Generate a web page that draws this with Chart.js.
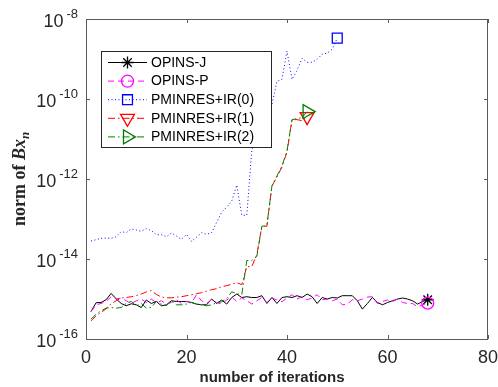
<!DOCTYPE html>
<html>
<head>
<meta charset="utf-8">
<script src="https://cdn.jsdelivr.net/npm/chart.js@4/dist/chart.umd.min.js"></script>
<style>
  html, body { margin: 0; padding: 0; background: #fff; }
  canvas { display: block; }
</style>
</head>
<body>
<canvas id="chart" width="498" height="387"></canvas>
<script>
const seriesNames = ['OPINS-J', 'OPINS-P', 'PMINRES+IR(0)', 'PMINRES+IR(1)', 'PMINRES+IR(2)'];

// norm of B x_n per iteration (iteration k = index + 1)
const opinsJ = [4.86e-16, 8.05e-16, 8.18e-16, 9.57e-16, 1.38e-15, 1.01e-15, 7.73e-16, 6.76e-16, 7.60e-16, 7.16e-16,
  6.12e-16, 9.42e-16, 7.73e-16, 8.67e-16, 6.76e-16, 7.16e-16, 9.03e-16, 8.67e-16, 8.67e-16, 8.67e-16,
  8.18e-16, 7.46e-16, 7.16e-16, 7.16e-16, 9.97e-16, 7.73e-16, 9.42e-16, 7.46e-16, 1.09e-15, 1.33e-15,
  1.09e-15, 1.14e-15, 1.09e-15, 1.09e-15, 1.21e-15, 7.73e-16, 1.09e-15, 7.73e-16, 1.09e-15, 1.14e-15,
  1.09e-15, 1.21e-15, 1.09e-15, 1.33e-15, 1.14e-15, 7.73e-16, 1.09e-15, 9.97e-16, 1.09e-15, 1.06e-15,
  1.21e-15, 1.21e-15, 1.21e-15, 9.03e-16, 5.58e-16, 7.73e-16, 1.09e-15, 8.18e-16, 7.16e-16, 8.18e-16,
  9.03e-16, 9.97e-16, 1.06e-15, 9.97e-16, 9.03e-16, 7.46e-16, 8.67e-16, 9.57e-16];

const opinsP = [4.86e-16, 7.16e-16, 7.73e-16, 8.67e-16, 1.14e-15, 9.97e-16, 1.06e-15, 9.03e-16, 7.73e-16, 9.03e-16,
  9.97e-16, 8.18e-16, 9.97e-16, 8.05e-16, 9.03e-16, 7.46e-16, 8.18e-16, 9.57e-16, 7.73e-16, 8.67e-16,
  8.05e-16, 1.28e-15, 9.03e-16, 7.73e-16, 9.57e-16, 8.18e-16, 7.46e-16, 9.42e-16, 1.14e-15, 8.67e-16,
  1.07e-15, 9.03e-16, 7.46e-16, 9.03e-16, 1.09e-15, 8.18e-16, 1.06e-15, 9.42e-16, 8.53e-16, 1.06e-15,
  1.28e-15, 9.97e-16, 1.14e-15, 9.57e-16, 1.06e-15, 1.28e-15, 9.57e-16, 9.97e-16, 9.03e-16, 9.97e-16,
  7.16e-16, 7.46e-16, 9.57e-16, 9.03e-16, 9.97e-16, 1.12e-15, 1.14e-15, 7.73e-16, 8.67e-16, 9.42e-16,
  8.67e-16, 9.97e-16, 8.18e-16, 7.73e-16, 7.73e-16, 6.38e-16, 7.16e-16, 7.91e-16];

const irZero = [2.81e-14, 3.04e-14, 3.28e-14, 3.33e-14, 3.28e-14, 3.61e-14, 4.83e-14, 4.56e-14, 5.62e-14, 5.31e-14,
  4.92e-14, 5.75e-14, 5.12e-14, 4.06e-14, 4.06e-14, 3.61e-14, 4.46e-14, 3.75e-14, 3.10e-14, 4.13e-14,
  2.75e-14, 3.53e-14, 4.56e-14, 4.13e-14, 4.56e-14, 8.28e-14, 1.48e-13, 1.98e-13, 2.80e-13, 7.06e-13,
  1.24e-13, 1.24e-13, 5.37e-12, 1.07e-11, 1.92e-11, 3.43e-11, 7.28e-11, 2.75e-10, 3.10e-10, 1.57e-9,
  3.10e-10, 5.21e-10, 1.04e-9, 8.28e-10, 8.28e-10, 9.86e-10, 1.32e-9, 1.40e-9, 1.76e-9, 3.33e-9];

const irOne = [2.84e-16, 3.79e-16, 4.59e-16, 5.69e-16, 7.60e-16, 9.03e-16, 1.06e-15, 1.09e-15, 1.14e-15, 1.21e-15,
  1.33e-15, 1.50e-15, 1.62e-15, 1.30e-15, 1.12e-15, 1.07e-15, 1.07e-15, 1.11e-15, 1.14e-15, 1.21e-15,
  1.28e-15, 1.36e-15, 1.44e-15, 1.57e-15, 1.71e-15, 1.81e-15, 2.03e-15, 2.15e-15, 2.35e-15, 2.56e-15,
  2.28e-15, 6.47e-15, 6.47e-15, 1.30e-14, 6.58e-14, 6.58e-14, 6.67e-13, 1.12e-12, 2.00e-12, 4.78e-12,
  3.05e-11, 3.05e-11, 2.88e-11, 3.63e-11];

const irTwo = [3.13e-16, 4.18e-16, 5.06e-16, 5.92e-16, 6.12e-16, 5.92e-16, 6.12e-16, 7.73e-16, 8.67e-16, 6.76e-16,
  7.73e-16, 5.92e-16, 6.12e-16, 8.67e-16, 7.46e-16, 6.76e-16, 9.03e-16, 7.16e-16, 7.16e-16, 7.46e-16,
  8.18e-16, 7.46e-16, 7.16e-16, 6.76e-16, 7.16e-16, 8.05e-16, 8.53e-16, 1.01e-15, 1.52e-15, 1.36e-15,
  1.28e-15, 9.16e-15, 9.16e-15, 1.16e-14, 6.58e-14, 6.97e-14, 6.67e-13, 1.19e-12, 2.12e-12, 5.06e-12,
  3.05e-11, 3.23e-11, 3.43e-11, 4.85e-11];

const xTicks = [0, 20, 40, 60, 80];
const yTicks = [1e-16, 1e-14, 1e-12, 1e-10, 1e-8];
const yTickExp = ['-16', '-14', '-12', '-10', '-8'];

const series = [opinsJ, opinsP, irZero, irOne, irTwo];
const styles = [
  { color: '#000000', dash: [],            marker: 'star',     rot: 0,   r: 6 },
  { color: '#ff00ff', dash: [6, 4],        marker: 'circle',   rot: 0,   r: 6 },
  { color: '#0000ff', dash: [1, 2.5],      marker: 'rect',     rot: 0,   r: 7 },
  { color: '#ff0000', dash: [7, 3, 1.5, 3], marker: 'triangle', rot: 180, r: 8 },
  { color: '#008000', dash: [7, 3, 1.5, 3], marker: 'triangle', rot: 90,  r: 8 },
];

const axisColor = '#262626';
const frameColor = '#5a5a5a';

const drawMarker = (ctx, st, cx, cy) => {
  const r = st.r;
  const rad = st.rot * Math.PI / 180;
  ctx.beginPath();
  if (st.marker === 'circle') {
    ctx.arc(cx, cy, r, 0, 2 * Math.PI);
  } else if (st.marker === 'rect') {
    const s = r * Math.SQRT1_2;
    ctx.rect(cx - s, cy - s, 2 * s, 2 * s);
  } else if (st.marker === 'triangle') {
    for (let k = 0; k < 3; k++) {
      const a = rad + k * 2 * Math.PI / 3;
      ctx.lineTo(cx + Math.sin(a) * r, cy - Math.cos(a) * r);
    }
    ctx.closePath();
  } else {
    for (let k = 0; k < 4; k++) {
      const a = k * Math.PI / 4;
      ctx.moveTo(cx + Math.cos(a) * r, cy + Math.sin(a) * r);
      ctx.lineTo(cx - Math.cos(a) * r, cy - Math.sin(a) * r);
    }
  }
  ctx.stroke();
};

// box with inward ticks, like the matlab axes
const framePlugin = {
  id: 'frame',
  beforeDatasetsDraw(chart) {
    const { ctx, chartArea: a, scales: { x, y } } = chart;
    ctx.save();
    ctx.strokeStyle = frameColor;
    ctx.lineWidth = 1;
    ctx.strokeRect(a.left + 0.5, a.top + 0.5, a.right - a.left - 1, a.bottom - a.top);
    ctx.beginPath();
    xTicks.forEach(v => {
      const px = Math.round(x.getPixelForValue(v)) + 0.5;
      ctx.moveTo(px, a.bottom); ctx.lineTo(px, a.bottom - 4);
      ctx.moveTo(px, a.top); ctx.lineTo(px, a.top + 4);
    });
    yTicks.forEach(v => {
      const py = Math.round(y.getPixelForValue(v)) + 0.5;
      ctx.moveTo(a.left, py); ctx.lineTo(a.left + 4, py);
      ctx.moveTo(a.right, py); ctx.lineTo(a.right - 4, py);
    });
    ctx.stroke();
    ctx.restore();
  },
  afterDraw(chart) {
    const { ctx, chartArea: a, scales: { x, y } } = chart;
    ctx.save();
    ctx.fillStyle = axisColor;

    // x tick labels
    ctx.font = '18px "Liberation Sans", Arial, sans-serif';
    ctx.textAlign = 'center';
    ctx.textBaseline = 'alphabetic';
    xTicks.forEach(v => ctx.fillText(String(v), x.getPixelForValue(v), 363));

    // y tick labels 10^e
    yTicks.forEach((v, i) => {
      const py = y.getPixelForValue(v);
      ctx.font = '13px "Liberation Sans", Arial, sans-serif';
      const ew = ctx.measureText(yTickExp[i]).width;
      ctx.textAlign = 'left';
      ctx.fillText(yTickExp[i], 78 - ew, py - 1);
      ctx.font = '18px "Liberation Sans", Arial, sans-serif';
      ctx.textAlign = 'right';
      ctx.fillText('10', 78 - ew - 3, py + 8);
    });

    // x title
    ctx.font = 'bold 15px "Liberation Sans", Arial, sans-serif';
    ctx.textAlign = 'center';
    ctx.fillText('number of iterations', 272, 382);

    // y title: norm of Bx_n
    ctx.save();
    ctx.translate(25, (a.top + a.bottom) / 2);
    ctx.rotate(-Math.PI / 2);
    const f1 = 'bold 18px "Liberation Serif", "DejaVu Serif", serif';
    const f2 = 'bold italic 18px "Liberation Serif", "DejaVu Serif", serif';
    const f3 = 'bold italic 13px "Liberation Serif", "DejaVu Serif", serif';
    ctx.font = f1; const w1 = ctx.measureText('norm of ').width;
    ctx.font = f2; const w2 = ctx.measureText('Bx').width;
    ctx.font = f3; const w3 = ctx.measureText('n').width;
    let tx = -(w1 + w2 + w3) / 2;
    ctx.textAlign = 'left';
    ctx.font = f1; ctx.fillText('norm of ', tx, 0); tx += w1;
    ctx.font = f2; ctx.fillText('Bx', tx, 0); tx += w2;
    ctx.font = f3; ctx.fillText('n', tx, 4);
    ctx.restore();

    // legend box
    const lx = 101.5, ly = 51.5, lw = 170, lh = 96;
    ctx.fillStyle = '#ffffff';
    ctx.fillRect(lx, ly, lw, lh);
    ctx.strokeStyle = axisColor;
    ctx.lineWidth = 1;
    ctx.strokeRect(lx, ly, lw, lh);
    seriesNames.forEach((name, i) => {
      const st = styles[i];
      const ry = 62.5 + i * 18.6;
      ctx.strokeStyle = st.color;
      ctx.lineWidth = 1;
      ctx.setLineDash(st.dash);
      ctx.beginPath();
      ctx.moveTo(108, ry); ctx.lineTo(147, ry);
      ctx.stroke();
      ctx.setLineDash([]);
      ctx.lineWidth = 1.3;
      drawMarker(ctx, st, 127.5, ry);
      ctx.fillStyle = '#000000';
      ctx.font = '14px "Liberation Sans", Arial, sans-serif';
      ctx.textAlign = 'left';
      ctx.textBaseline = 'middle';
      ctx.fillText(name, 151, ry + 0.5);
      ctx.textBaseline = 'alphabetic';
    });
    ctx.restore();
  }
};

const datasets = series.map((vals, i) => ({
  label: seriesNames[i],
  data: vals.map((v, k) => ({ x: k + 1, y: v })),
  borderColor: styles[i].color,
  borderWidth: 1,
  borderDash: styles[i].dash,
  pointStyle: styles[i].marker,
  pointRotation: styles[i].rot,
  pointRadius: vals.map((_, k) => (k === vals.length - 1 ? styles[i].r : 0)),
  pointHoverRadius: 0,
  pointBorderColor: styles[i].color,
  pointBackgroundColor: 'rgba(0,0,0,0)',
  pointBorderWidth: 1.3,
  fill: false,
  tension: 0,
  order: 5 - i,
}));

new Chart(document.getElementById('chart'), {
  type: 'line',
  data: { datasets },
  options: {
    responsive: false,
    animation: false,
    events: [],
    layout: { padding: { left: 86, right: 10, top: 19, bottom: 48 } },
    scales: {
      x: { type: 'linear', min: 0, max: 80, display: false },
      y: { type: 'logarithmic', min: 1e-16, max: 1e-8, display: false },
    },
    plugins: {
      legend: { display: false },
      tooltip: { enabled: false },
    },
  },
  plugins: [framePlugin],
});
</script>
</body>
</html>
